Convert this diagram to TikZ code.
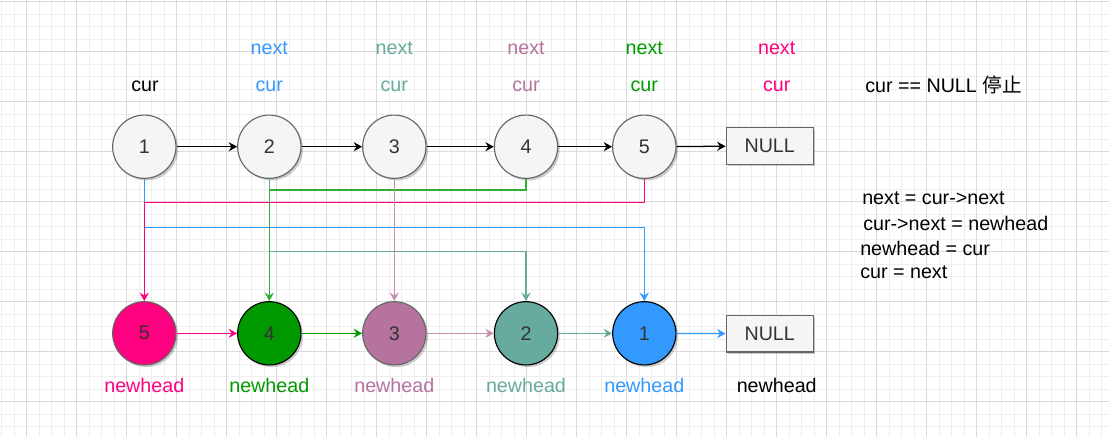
\documentclass[tikz,border=0pt]{standalone}
\usepackage{fontspec}
\setmainfont{Liberation Sans}
\newfontfamily\cjk{Noto Sans CJK SC}
\usetikzlibrary{arrows.meta, calc, shadows}
\definecolor{stepblue}{RGB}{51,153,255}
\definecolor{stepteal}{RGB}{103,171,159}
\definecolor{stepmauve}{RGB}{181,115,157}
\definecolor{stepgreen}{RGB}{0,153,0}
\definecolor{steppink}{RGB}{255,0,128}
\definecolor{nodegray}{RGB}{245,245,245}
\definecolor{gridminor}{RGB}{238,238,238}
\definecolor{gridmajor}{RGB}{218,218,218}
\tikzset{
  x=0.025cm, y=-0.025cm,
  txt/.style={font=\fontsize{14}{16}\selectfont, inner sep=0pt},
  listnode/.style={circle, draw=black!60, fill=nodegray, text=black!80, minimum size=45pt, inner sep=0pt, line width=0.8pt,
    txt, drop shadow={shadow xshift=1.5pt, shadow yshift=-1.5pt, fill=black, opacity=0.2}},
  nullbox/.style={rectangle, draw=black!60, fill=nodegray, text=black!80, minimum width=62pt, minimum height=26pt, line width=0.8pt,
    txt, drop shadow={shadow xshift=1.5pt, shadow yshift=-1.5pt, fill=black, opacity=0.2}},
  ptr/.style={line width=0.9pt, -{Stealth[length=6pt, width=6.5pt, inset=2pt]}},
}
\begin{document}
\begin{tikzpicture}
    \useasboundingbox (0,0) rectangle (1109,437);
    \fill[white] (0,0) rectangle (1109,437);
    % grid
    \foreach \gx in {1.7,14.2,...,1109} \draw[gridminor, line width=0.5pt] (\gx,0) -- (\gx,437);
    \foreach \gy in {1.7,14.2,...,437} \draw[gridminor, line width=0.5pt] (0,\gy) -- (1109,\gy);
    \foreach \gx in {26.7,76.7,...,1109} \draw[gridmajor, line width=0.6pt] (\gx,0) -- (\gx,437);
    \foreach \gy in {1.7,51.7,...,437} \draw[gridmajor, line width=0.6pt] (0,\gy) -- (1109,\gy);

    % original list
    \foreach \n/\x in {1/144.3, 2/269.3, 3/394.3, 4/526, 5/644.3}
        \node[listnode] (t\n) at (\x,146.7) {\n};
    \node[nullbox] (tnull) at (769.7,146) {NULL};

    % reversed list
    \foreach \n/\x/\c/\d in {5/144.3/steppink/black!60, 4/269.3/stepgreen/black, 3/394.3/stepmauve/black!60, 2/526/stepteal/black, 1/644.3/stepblue/black}
        \node[listnode, fill=\c, draw=\d] (b\n) at (\x,333.3) {\n};
    \node[nullbox] (bnull) at (769.7,333.7) {NULL};

    % labels
    \node[txt] (c1) at (145,86) {cur};
    \foreach \k/\x/\c in {2/269.3/stepblue, 3/394.3/stepteal, 4/526/stepmauve, 5/644.3/stepgreen, 6/776.7/steppink} {
        \node[txt, text=\c] (nx\k) at (\x,48.3) {next};
        \node[txt, text=\c] (c\k) at (\x,86) {cur};
    }
    \foreach \k/\x/\c in {5/144.3/steppink, 4/269.3/stepgreen, 3/394.3/stepmauve, 2/526/stepteal, 1/644.3/stepblue, 0/776.7/black}
        \node[txt, text=\c] (nh\k) at (\x,385) {newhead};

    \node[txt, anchor=west] (stop) at (865,85) {cur == NULL {\cjk 停止}};
    \node[txt, anchor=west] (s1) at (862,198.3) {next = cur->next};
    \node[txt, anchor=west] (s2) at (863,223.3) {cur->next = newhead};
    \node[txt, anchor=west] (s3) at (860,248.3) {newhead = cur};
    \node[txt, anchor=west] (s4) at (860,272.3) {cur = next};

    % links of the original list
    \draw[ptr] (t1) -- (t2);
    \draw[ptr] (t2) -- (t3);
    \draw[ptr] (t3) -- (t4);
    \draw[ptr] (t4) -- (t5);
    \draw[ptr] (t5) -- (tnull);

    % links of the reversed list
    \draw[ptr, steppink] (b5) -- (b4);
    \draw[ptr, stepgreen] (b4) -- (b3);
    \draw[ptr, stepmauve!80] (b3) -- (b2);
    \draw[ptr, stepteal] (b2) -- (b1);
    \draw[ptr, stepblue] (b1) -- (bnull);

    % moves
    \coordinate (kb) at (400,227.3);
    \coordinate (kp) at (400,202.3);
    \coordinate (kg) at (400,190);
    \coordinate (kt) at (400,251.7);
    \draw[ptr, stepblue] (t1.south) |- (kb) -| (b1.north);
    \draw[ptr, steppink] (t5.south) |- (kp) -| (b5.north);
    \draw[ptr, stepteal] (t2.south) |- (kt) -| (b2.north);
    \draw[ptr, stepgreen!80] (t4.south) |- (kg) -| (b4.north);
    \draw[ptr, stepmauve!80] (t3) -- (b3);
\end{tikzpicture}
\end{document}
